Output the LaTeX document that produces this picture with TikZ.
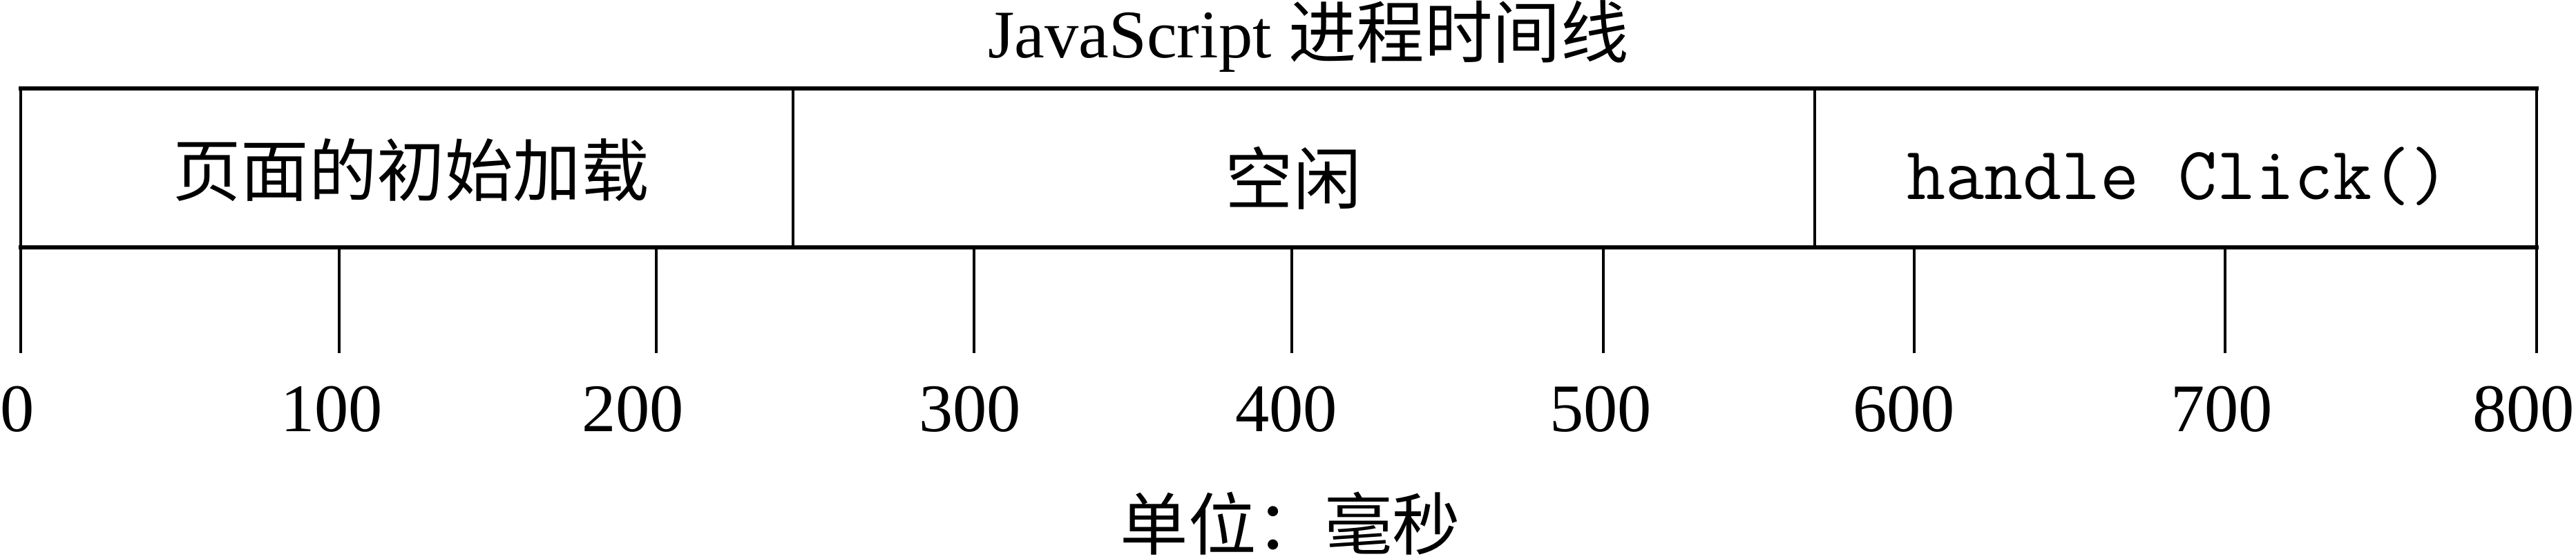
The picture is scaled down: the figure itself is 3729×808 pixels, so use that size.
\documentclass[tikz,border=0pt]{standalone}
\usepackage{fontspec}
\setmainfont{Liberation Serif}
\newfontfamily\cjk{Noto Sans CJK SC}

\begin{document}
\begin{tikzpicture}[x=0.01cm, y=-0.01cm,
		every node/.style={inner sep=0pt, font=\fontsize{28}{34}\selectfont},
		hrule/.style={line width=1.7pt, line cap=rect},
		vrule/.style={line width=1.4pt}]
			\useasboundingbox (0,0) rectangle (3729,808);

			% Title
			\node[anchor=base] (title) at (1894,83) {JavaScript {\cjk 进程时间线}};

			% Draw the timeline box
			\draw[vrule] (30,128) -- (30,511);
			\draw[vrule] (3672,128) -- (3672,511);
			\draw[vrule] (1148,128) -- (1148,358);
			\draw[vrule] (2627,128) -- (2627,358);
			\draw[hrule] (30,128) -- (3672,128);
			\draw[hrule] (30,358) -- (3672,358);

			% Parts of the timeline
			\node (load) at (595,246) {\cjk 页面的初始加载};
			\node (idle) at (1872,258) {\cjk 空闲};
			\node[anchor=base] (click) at (3153,288)
				{\ttfamily\fontsize{31}{36}\selectfont handle Click()};

			% Draw ticks and numbers
			\foreach \x in {491, 950, 1410, 1870, 2321, 2771, 3221}
				\draw[vrule] (\x,358) -- (\x,511);
			\foreach \x/\v in {25/0, 480/100, 916/200, 1404/300, 1862/400,
					2317/500, 2756/600, 3216/700, 3653/800}
				\node[anchor=base] (n\v) at (\x,624) {\v};

			% Unit
			\node (unit) at (1868,758) {\cjk 单位：毫秒};
		\end{tikzpicture}
\end{document}
